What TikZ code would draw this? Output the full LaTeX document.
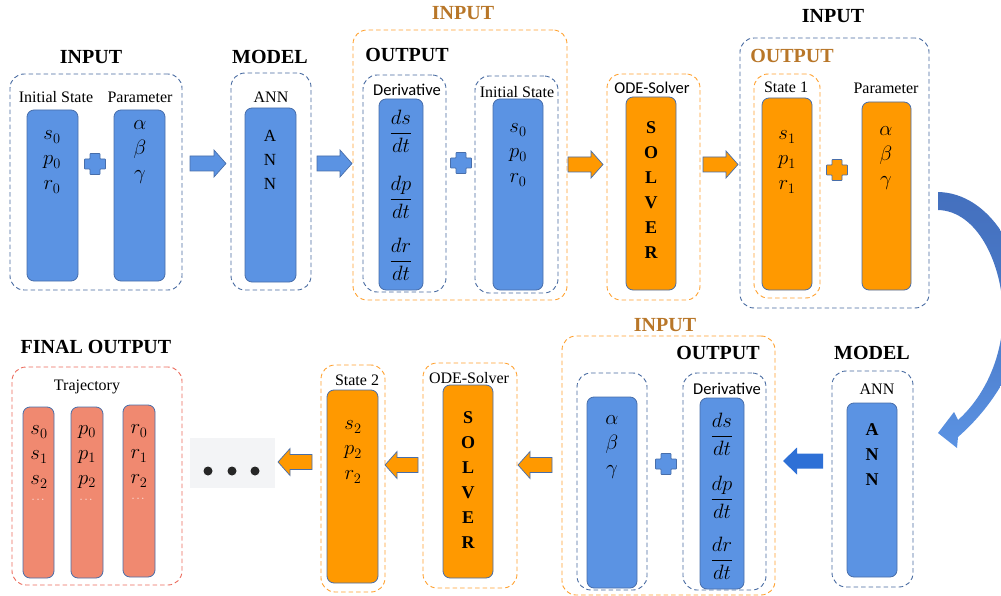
\documentclass[tikz,border=0pt]{standalone}
\usepackage{fontspec}
\usepackage{amsmath}
\setmainfont{Liberation Serif}
\newfontfamily\calib{Carlito}
\usetikzlibrary{calc}
\definecolor{bfill}{RGB}{91,147,227}
\definecolor{bline}{RGB}{72,110,170}
\definecolor{dashblue}{RGB}{70,105,160}
\definecolor{ofill}{RGB}{255,153,0}
\definecolor{dashor}{RGB}{255,160,45}
\definecolor{ttlbrown}{RGB}{184,118,40}
\definecolor{sfill}{RGB}{240,137,112}
\definecolor{dashred}{RGB}{235,105,90}
\definecolor{darkarrow}{RGB}{46,112,214}
\definecolor{arrowtop}{RGB}{68,112,190}
\definecolor{graybg}{RGB}{243,244,246}
\newcommand\bx[6]{\node[#1, inner sep=0pt, minimum width={#5-#3}, minimum height={#6-#4}] (#2) at ({(#3+#5)/2},{(#4+#6)/2}) {};}
\newcommand\blk[4]{\path[#1] let \p1=(#2), \p2=(#3) in
 (\x1,{\y1+7.5pt}) -- ({\x2-(#4)},{\y1+7.5pt}) -- ({\x2-(#4)},{\y1+13.5pt}) -- (\x2,\y1) -- ({\x2-(#4)},{\y1-13.5pt}) -- ({\x2-(#4)},{\y1-7.5pt}) -- (\x1,{\y1-7.5pt}) -- cycle;}
\newcommand\plusat[3]{\path[#1, rounded corners=0.6pt] (#2,#3) ++(-5,-10.5) -- ++(10,0) -- ++(0,5.5) -- ++(5.5,0) -- ++(0,10) -- ++(-5.5,0) -- ++(0,5.5) -- ++(-10,0) -- ++(0,-5.5) -- ++(-5.5,0) -- ++(0,-10) -- ++(5.5,0) -- cycle;}
\tikzset{
 dbox/.style={draw=dashblue, dash pattern=on 4.5pt off 3pt, line width=0.9pt, rounded corners=14pt},
 obox/.style={dbox, draw=dashor},
 rbox/.style={dbox, draw=dashred},
 brect/.style={draw=bline, line width=0.8pt, fill=bfill, rounded corners=7pt},
 orect/.style={brect, fill=ofill},
 srect/.style={brect, fill=sfill},
 title/.style={font=\fontsize{20}{24}\selectfont\bfseries},
 lbl/.style={font=\fontsize{16}{18}\selectfont},
 slbl/.style={font=\calib\fontsize{16.5}{18}\selectfont},
 mth/.style={font=\fontsize{22}{25}\selectfont, align=center, inner sep=0pt},
 lett/.style={font=\fontsize{18}{25}\selectfont\bfseries, align=center, inner sep=0pt},
 barrow/.style={fill=bfill, draw=bline, line width=0.7pt},
 oarrow/.style={fill=ofill, draw=bline, line width=0.7pt},
 darrow/.style={fill=darkarrow},
 bplus/.style={fill=bfill, draw=bline, line width=0.6pt},
 oplus/.style={fill=ofill, draw=bline, line width=0.6pt},
 wdots/.style={text=white, font=\fontsize{11}{11}\selectfont, inner sep=0pt},
}
\begin{document}
\begin{tikzpicture}[x=1pt,y=-1pt]
\useasboundingbox (0,0) rectangle (1001,596);
\clip (0,0) rectangle (1001,596);
% ---------------- top row ----------------
\node[title] (t1) at (91,57) {INPUT};
\bx{dbox}{inbox}{10}{74}{182}{290}
\node[lbl] (l1) at (56,97) {Initial State};
\node[lbl] (l2) at (140,97) {Parameter};
\bx{brect}{r1}{27}{110}{78}{281}
\node[mth] (c1) at (52,162) {$s_0$\\$p_0$\\$r_0$};
\plusat{bplus}{95}{164}
\bx{brect}{r2}{114}{110}{165}{281}
\node[mth] (c2) at (140,152) {$\alpha$\\$\beta$\\$\gamma$};
\coordinate (a1s) at (190,163.5); \coordinate (a1e) at (226,163.5);
\blk{barrow}{a1s}{a1e}{12}
\node[title] (t2) at (270,57) {MODEL};
\bx{dbox}{modelbox}{231}{73}{311}{290}
\node[lbl] (l3) at (271,97) {ANN};
\bx{brect}{r3}{245}{108}{296}{282}
\node[font=\fontsize{17}{24}\selectfont, align=center, inner sep=0pt] (c3) at (270,160) {A\\N\\N};
\coordinate (a2s) at (317,163.5); \coordinate (a2e) at (352,163.5);
\blk{barrow}{a2s}{a2e}{12}
\node[title, text=ttlbrown] (t3) at (463,13) {INPUT};
\bx{obox}{big1}{353}{30}{567}{300}
\node[title] (t4) at (407,55) {OUTPUT};
\bx{dbox}{derivbox}{363}{75}{446}{292}
\node[slbl] (l4) at (407,90) {Derivative};
\bx{brect}{r4}{379}{99}{423}{290}
\node[mth] (f1) at (401,131) {$\dfrac{ds}{dt}$};
\node[mth] (f2) at (401,197) {$\dfrac{dp}{dt}$};
\node[mth] (f3) at (401,259) {$\dfrac{dr}{dt}$};
\plusat{bplus}{461}{163}
\bx{dbox}{isbox}{475}{76}{558}{293}
\node[lbl] (l5) at (517,92) {Initial State};
\bx{brect}{r5}{493}{99}{543}{290}
\node[mth] (c5) at (518,155) {$s_0$\\$p_0$\\$r_0$};
\coordinate (a3s) at (568,164.5); \coordinate (a3e) at (603,164.5);
\blk{oarrow}{a3s}{a3e}{12}
\bx{obox}{ode1}{607}{74}{700}{300}
\node[slbl] (l6) at (652,88) {ODE-Solver};
\bx{orect}{r6}{626}{97}{676}{290}
\node[lett] (c6) at (651,190.5) {S\\O\\L\\V\\E\\R};
\coordinate (a4s) at (703,164.5); \coordinate (a4e) at (738,164.5);
\blk{oarrow}{a4s}{a4e}{12}
\node[title] (t5) at (833,16) {INPUT};
\bx{dbox}{bb2}{740}{38}{929}{308}
\node[title, text=ttlbrown] (t6) at (792,56) {OUTPUT};
\bx{obox}{st1box}{754}{74}{820}{298}
\node[lbl] (l7) at (786,87) {State 1};
\bx{orect}{r7}{762}{98}{812}{290}
\node[mth] (c7) at (787,162) {$s_1$\\$p_1$\\$r_1$};
\plusat{oplus}{837}{170}
\node[lbl] (l8) at (886,88) {Parameter};
\bx{orect}{r8}{862}{102}{911}{290}
\node[mth] (c8) at (886,158) {$\alpha$\\$\beta$\\$\gamma$};
% curved arrow
\shade[top color=arrowtop, bottom color=bfill, middle color=arrowtop!70!bfill]
 (938,192) .. controls (990,193) and (1026,255) .. (1024,315)
 .. controls (1022,355) and (998,402) .. (958,437)
 -- (957,448) -- (938,433) -- (954,412) -- (958,420)
 .. controls (985,396) and (1004,355) .. (1003,310)
 .. controls (1001,262) and (977,211) .. (938,210) -- cycle;
% ---------------- bottom row ----------------
\node[title] (t7) at (96,347) {FINAL OUTPUT};
\bx{rbox}{trajbox}{12}{367}{182}{585}
\node[lbl] (l9) at (87,387) {Trajectory};
\bx{srect}{s1}{23}{407}{54}{578}
\bx{srect}{s2}{71}{407}{103}{578}
\bx{srect}{s3}{123}{405}{155}{577}
\node[mth] (cs1) at (39,457) {$s_0$\\$s_1$\\$s_2$};
\node[mth] (cs2) at (87,457) {$p_0$\\$p_1$\\$p_2$};
\node[mth] (cs3) at (139,456) {$r_0$\\$r_1$\\$r_2$};
\node[wdots] (d1) at (39,500) {$\cdots$};
\node[wdots] (d2) at (87,500) {$\cdots$};
\node[wdots] (d3) at (139,499) {$\cdots$};
\bx{fill=graybg}{dots}{190}{438}{275}{488}
\fill[black!85] (208,471) circle (4.5) (232,471) circle (4.5) (255,471) circle (4.5);
\coordinate (a5s) at (312,462); \coordinate (a5e) at (278,462);
\blk{oarrow}{a5s}{a5e}{-12}
\bx{obox}{st2box}{321}{365}{385}{592}
\node[lbl] (l10) at (357,380) {State 2};
\bx{orect}{r9}{327}{390}{378}{583}
\node[mth] (c9) at (353,452) {$s_2$\\$p_2$\\$r_2$};
\coordinate (a6s) at (418,465); \coordinate (a6e) at (385,465);
\blk{oarrow}{a6s}{a6e}{-12}
\bx{obox}{ode2}{423}{363}{517}{588}
\node[lbl] (l11) at (469,378) {ODE-Solver};
\bx{orect}{r10}{443}{385}{493}{578}
\node[lett] (c10) at (468,480) {S\\O\\L\\V\\E\\R};
\coordinate (a7s) at (552,465); \coordinate (a7e) at (518,465);
\blk{oarrow}{a7s}{a7e}{-12}
\node[title, text=ttlbrown] (t8) at (665,325) {INPUT};
\bx{obox}{big2}{562}{336}{775}{595}
\node[title] (t9) at (718,353) {OUTPUT};
\bx{dbox}{abgbox}{577}{373}{647}{590}
\bx{brect}{r11}{587}{397}{637}{588}
\node[mth] (c11) at (612,447) {$\alpha$\\$\beta$\\$\gamma$};
\plusat{bplus}{666}{464}
\bx{dbox}{deriv2}{683}{373}{766}{590}
\node[slbl] (l12) at (727,389) {Derivative};
\bx{brect}{r12}{700}{398}{744}{589}
\node[mth] (g1) at (722,434) {$\dfrac{ds}{dt}$};
\node[mth] (g2) at (722,497) {$\dfrac{dp}{dt}$};
\node[mth] (g3) at (722,558) {$\dfrac{dr}{dt}$};
\coordinate (a8s) at (823,461); \coordinate (a8e) at (783,461);
\blk{darrow}{a8s}{a8e}{-14}
\node[title] (t10) at (872,353) {MODEL};
\bx{dbox}{model2}{832}{371}{913}{587}
\node[lbl] (l13) at (877,389) {ANN};
\bx{brect}{r13}{847}{403}{897}{577}
\node[lett] (c13) at (872,455) {A\\N\\N};
\end{tikzpicture}
\end{document}
